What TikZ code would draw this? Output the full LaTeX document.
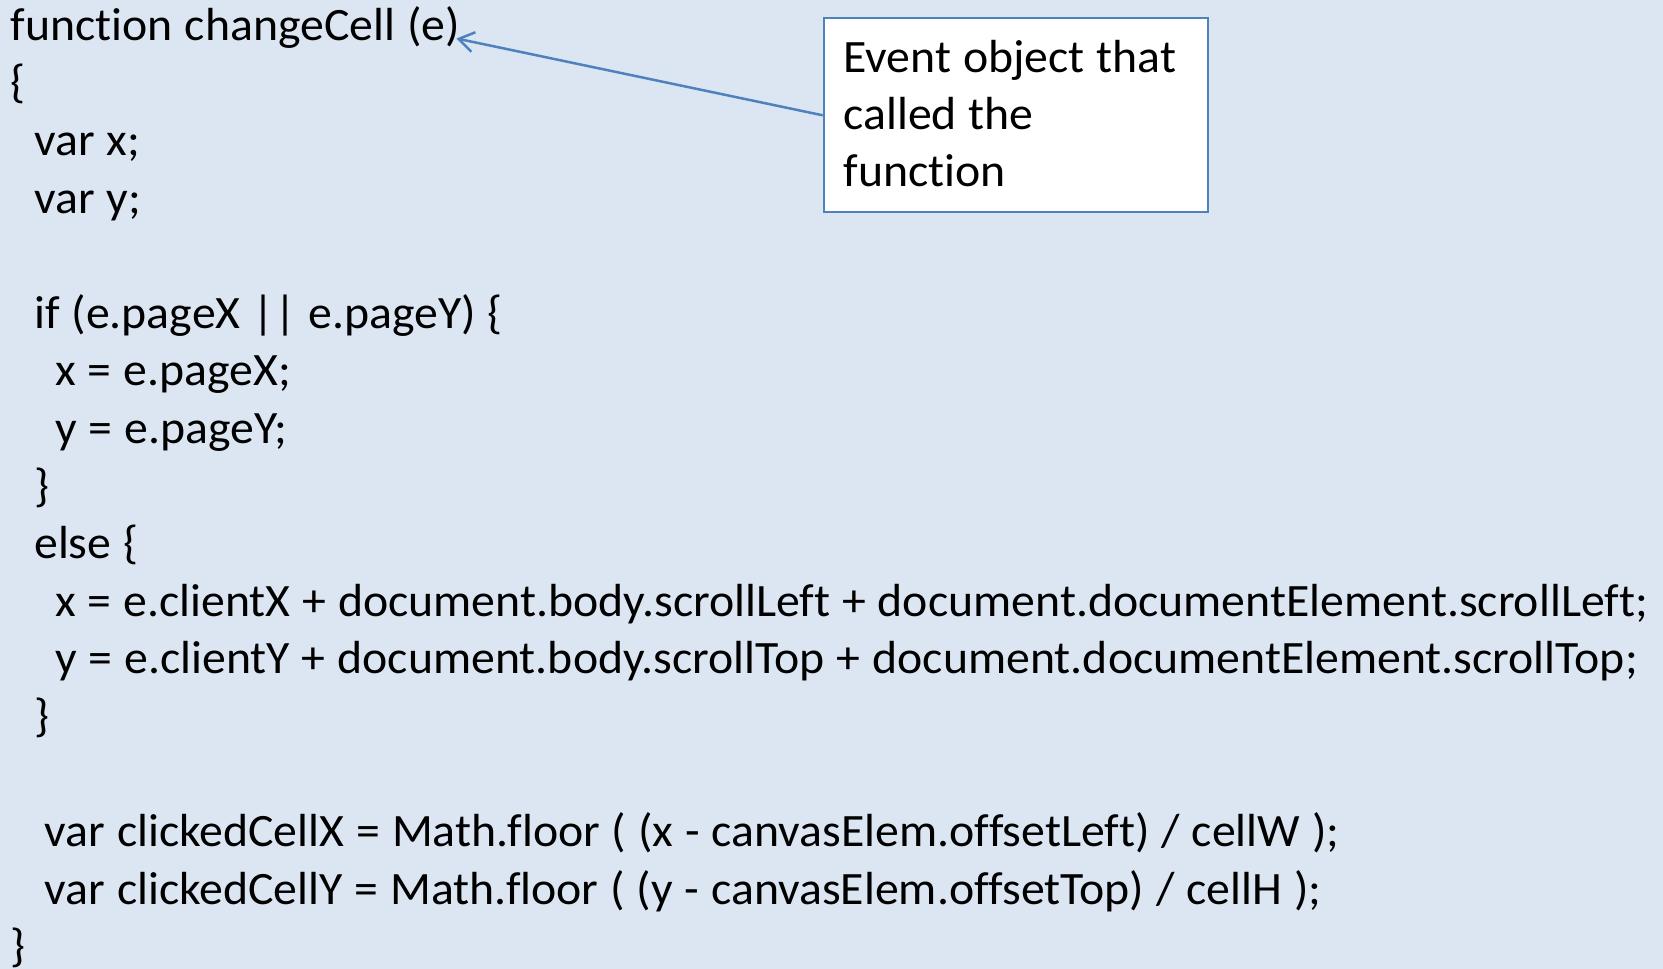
\documentclass[tikz,border=0pt]{standalone}
\usepackage{fontspec}
\setmainfont[FakeStretch=1.03, WordSpace=1.1, Ligatures=NoCommon]{Carlito}
\usetikzlibrary{arrows.meta}
\definecolor{slidebg}{HTML}{DCE6F2}
\definecolor{accentblue}{HTML}{4F81BD}
\newcommand\codefont{\fontsize{46.4}{57}\selectfont}
\tikzset{
  codeline/.style={anchor=base west, inner sep=0pt, font=\codefont, text=black},
  notebox/.style={draw=accentblue, line width=2pt, fill=white, anchor=north west,
    minimum width=384pt, minimum height=194pt, inner sep=0pt},
  callout/.style={draw=accentblue, line width=2.5pt,
    -{Straight Barb[length=15pt, width=20pt, line width=2.5pt]}}
}
\begin{document}
\begin{tikzpicture}[x=1pt, y=-1pt]
  % page background
  \fill[slidebg] (0,0) rectangle (1663,969);
  \useasboundingbox (0,0) rectangle (1663,969);

  % source listing, one node per line (baseline positions)
  \node[codeline] (l0)  at (10.6, 40.3)  {function changeCell (e)};
  \node[codeline] (l1)  at (10.6, 97.9)  {\{};
  \node[codeline] (l2)  at (34, 155.5)   {var x;};
  \node[codeline] (l3)  at (34, 213.1)   {var y;};
  \node[codeline] (l5)  at (34, 328.3)   {if (e.pageX || e.pageY) \{};
  \node[codeline] (l6)  at (55, 385.9)   {x = e.pageX;};
  \node[codeline] (l7)  at (55, 443.5)   {y = e.pageY;};
  \node[codeline] (l8)  at (34, 501.1)   {\}};
  \node[codeline] (l9)  at (34, 558.7)   {else \{};
  \node[codeline] (l10) at (55, 616.3)   {x = e.clientX + document.body.scrollLeft + document.documentElement.scrollLeft;};
  \node[codeline] (l11) at (55, 673.9)   {y = e.clientY + document.body.scrollTop + document.documentElement.scrollTop;};
  \node[codeline] (l12) at (34, 731.5)   {\}};
  \node[codeline] (l14) at (44.5, 846.7) {var clickedCellX = Math.floor ( (x - canvasElem.offsetLeft) / cellW );};
  \node[codeline] (l15) at (44.5, 904.3) {var clickedCellY = Math.floor ( (y - canvasElem.offsetTop) / cellH );};
  \node[codeline] (l16) at (10.6, 961.9) {\}};

  % annotation box
  \node[notebox] (note) at (822.7, 17.3) {};
  \node[codeline] (n1) at (843.3, 72.7)  {Event object that};
  \node[codeline] (n2) at (843.3, 129.7) {called the};
  \node[codeline] (n3) at (843.3, 186.7) {function};

  % pointer to the parameter
  \coordinate (etip) at (456.5, 38.5);
  \draw[callout] (note.west) -- (etip);
\end{tikzpicture}
\end{document}
